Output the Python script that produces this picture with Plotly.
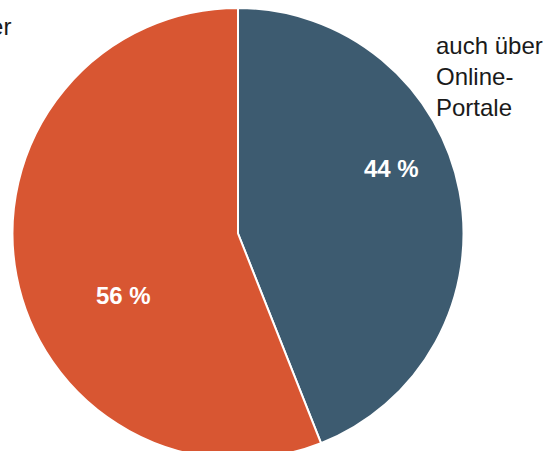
import plotly.graph_objects as go

categories = ["auch über Online-Portale", "nur über"]
values = [44, 56]
colors = ["#3d5b70", "#d85632"]
outer_labels = ["auch über<br>Online-<br>Portale", "nur über"]
value_suffix = " %"

# label placement (pixels within the figure)
value_label_pos = [(391, 160), (123, 287)]

W, H = 551, 451
cx, r = 238, 225.5
FONT = "Liberation Sans, Arial, sans-serif"

fig = go.Figure(go.Pie(
    labels=categories,
    values=values,
    sort=False,
    direction="clockwise",
    rotation=0,
    marker=dict(colors=colors, line=dict(color="white", width=2)),
    textinfo="none",
    hoverinfo="skip",
    showlegend=False,
    domain=dict(x=[(cx - r) / W, (cx + r) / W], y=[0, 1]),
))

for v, (px, py) in zip(values, value_label_pos):
    fig.add_annotation(text=f"{v}{value_suffix}", x=px / W, y=1 - py / H,
                       xref="paper", yref="paper", xanchor="center", yanchor="middle",
                       showarrow=False,
                       font=dict(family=FONT, size=24, color="white", weight="bold"))

fig.add_annotation(text=outer_labels[0], x=434 / W, y=1 - 22 / H, xref="paper", yref="paper",
                   xanchor="left", yanchor="top", align="left", showarrow=False,
                   font=dict(family=FONT, size=24, color="#1a1a1a"))
fig.add_annotation(text=outer_labels[1], x=13 / W, y=1 - 3 / H, xref="paper", yref="paper",
                   xanchor="right", yanchor="top", align="right", showarrow=False,
                   font=dict(family=FONT, size=24, color="#1a1a1a"))

fig.update_layout(width=W, height=H, margin=dict(l=0, r=0, t=0, b=0),
                  paper_bgcolor="white", plot_bgcolor="white")
fig.write_html("out.html",
               post_script="document.body.style.margin='8px 0 0 0';document.body.style.overflow='hidden';")
